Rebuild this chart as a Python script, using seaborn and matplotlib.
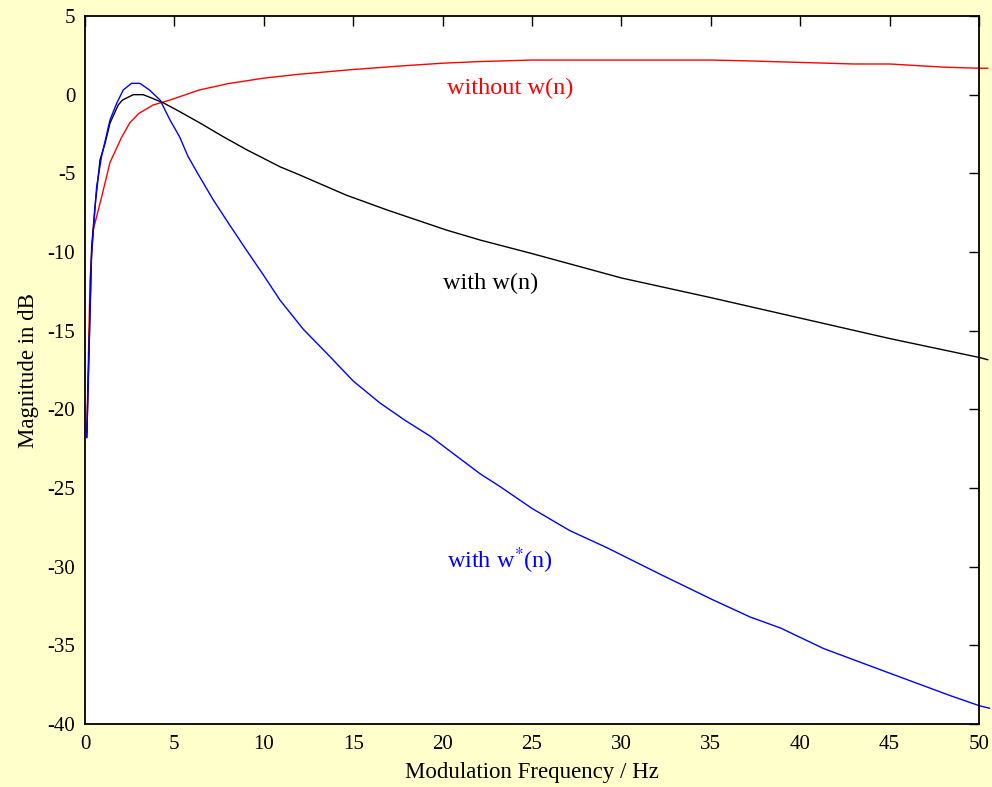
import matplotlib
matplotlib.use("Agg")
import matplotlib.pyplot as plt
import seaborn as sns
import pandas as pd

# --- data ---
f_without = [0.1, 0.28, 0.46, 0.93, 1.4, 2.05, 2.5, 3.0, 3.8, 4.75, 6.4, 8, 10, 12, 15, 18, 20, 22, 25, 30, 35, 37, 40, 43, 45, 48, 50, 50.5]
db_without = [-21.5, -11.8, -8.6, -6.5, -4.3, -2.7, -1.8, -1.2, -0.66, -0.34, 0.3, 0.7, 1.05, 1.3, 1.6, 1.85, 2.0, 2.1, 2.2, 2.2, 2.2, 2.15, 2.05, 1.95, 1.95, 1.75, 1.68, 1.68]

f_with = [0.1, 0.37, 0.56, 0.84, 1.12, 1.4, 1.86, 2.1, 2.7, 3.25, 3.7, 4.4, 5.3, 6.43, 7.7, 9.04, 10.9, 12, 14.6, 16.9, 20.2, 22.1, 25, 30, 35, 40, 45, 50, 50.5]
db_with = [-21.8, -9.7, -7.1, -4.15, -3.1, -1.8, -0.65, -0.34, 0, 0, -0.2, -0.53, -1.08, -1.8, -2.65, -3.5, -4.58, -5.1, -6.38, -7.33, -8.6, -9.24, -10.1, -11.65, -12.9, -14.2, -15.5, -16.7, -16.85]

f_withstar = [0.1, 0.37, 0.65, 0.93, 1.4, 1.77, 2.14, 2.6, 3.07, 3.6, 4.2, 4.75, 5.3, 5.75, 6.3, 7.18, 8.1, 9.04, 10.0, 10.9, 12.2, 13.7, 15.0, 16.5, 17.9, 19.3, 22.1, 23.2, 25.0, 27.1, 29.2, 32.2, 35.1, 37.2, 38.9, 41.3, 44.6, 48.4, 50.05, 50.6]
db_withstar = [-21.8, -10.1, -5.85, -3.9, -1.6, -0.55, 0.3, 0.72, 0.72, 0.3, -0.34, -1.6, -2.7, -3.9, -5.0, -6.7, -8.3, -9.9, -11.5, -13.05, -14.9, -16.65, -18.2, -19.6, -20.7, -21.7, -24.1, -24.9, -26.3, -27.7, -28.8, -30.5, -32.1, -33.2, -33.9, -35.2, -36.6, -38.2, -38.85, -39.0]

series_names = ["without w(n)", "with w(n)", "with w*(n)"]
series_colors = ["#FF0000", "#000000", "#0000FF"]

x_ticks = list(range(0, 51, 5))
y_ticks = list(range(-40, 6, 5))

# --- build table ---
frames = []
for name, fx, dy in zip(series_names, [f_without, f_with, f_withstar], [db_without, db_with, db_withstar]):
    frames.append(pd.DataFrame({"freq": fx, "mag": dy, "series": name}))
df = pd.concat(frames, ignore_index=True)

sns.set_theme(style="white")
plt.rcParams["font.family"] = ["Liberation Serif", "DejaVu Serif"]
plt.rcParams["mathtext.fontset"] = "stix"
plt.rcParams["axes.unicode_minus"] = False

fig = plt.figure(figsize=(9.92, 7.87), dpi=100, facecolor="#FFFFCC")
ax = fig.add_axes([85 / 992, 63 / 787, (979 - 85) / 992, (724 - 16) / 787])
ax.set_facecolor("white")

sns.lineplot(data=df, x="freq", y="mag", hue="series", palette=dict(zip(series_names, series_colors)),
             estimator=None, sort=False, linewidth=1.0, legend=False, ax=ax, clip_on=False)

ax.set_xlim(0, 50)
ax.set_ylim(-40, 5)
ax.set_xticks(x_ticks)
ax.set_yticks(y_ticks)
ax.set_xticklabels([str(t) for t in x_ticks])
ax.set_yticklabels([str(t) for t in y_ticks])

for s in ax.spines.values():
    s.set_visible(True)
    s.set_color("black")
    s.set_linewidth(1.3)

ax.tick_params(axis="both", which="both", direction="in", length=7, width=1.0, color="black",
               top=True, right=True, labelsize=15, labelcolor="black")
ax.tick_params(axis="x", pad=8)
ax.tick_params(axis="y", pad=7)

ax.set_xlabel("Modulation Frequency / Hz", fontsize=16.5, color="black", labelpad=6)
ax.set_ylabel("Magnitude in dB", fontsize=16.5, color="black", labelpad=6)

ax.text(20.25, 0.4, "without w(n)", color="#FF0000", fontsize=17.5, ha="left", va="center")
ax.text(20.0, -12.0, "with w(n)", color="#000000", fontsize=17.5, ha="left", va="center")
ax.text(20.25, -29.6, r"with w$^{*}$(n)", color="#0000FF", fontsize=17.5, ha="left", va="center")

fig.savefig("out.png", dpi=100, facecolor=fig.get_facecolor())
